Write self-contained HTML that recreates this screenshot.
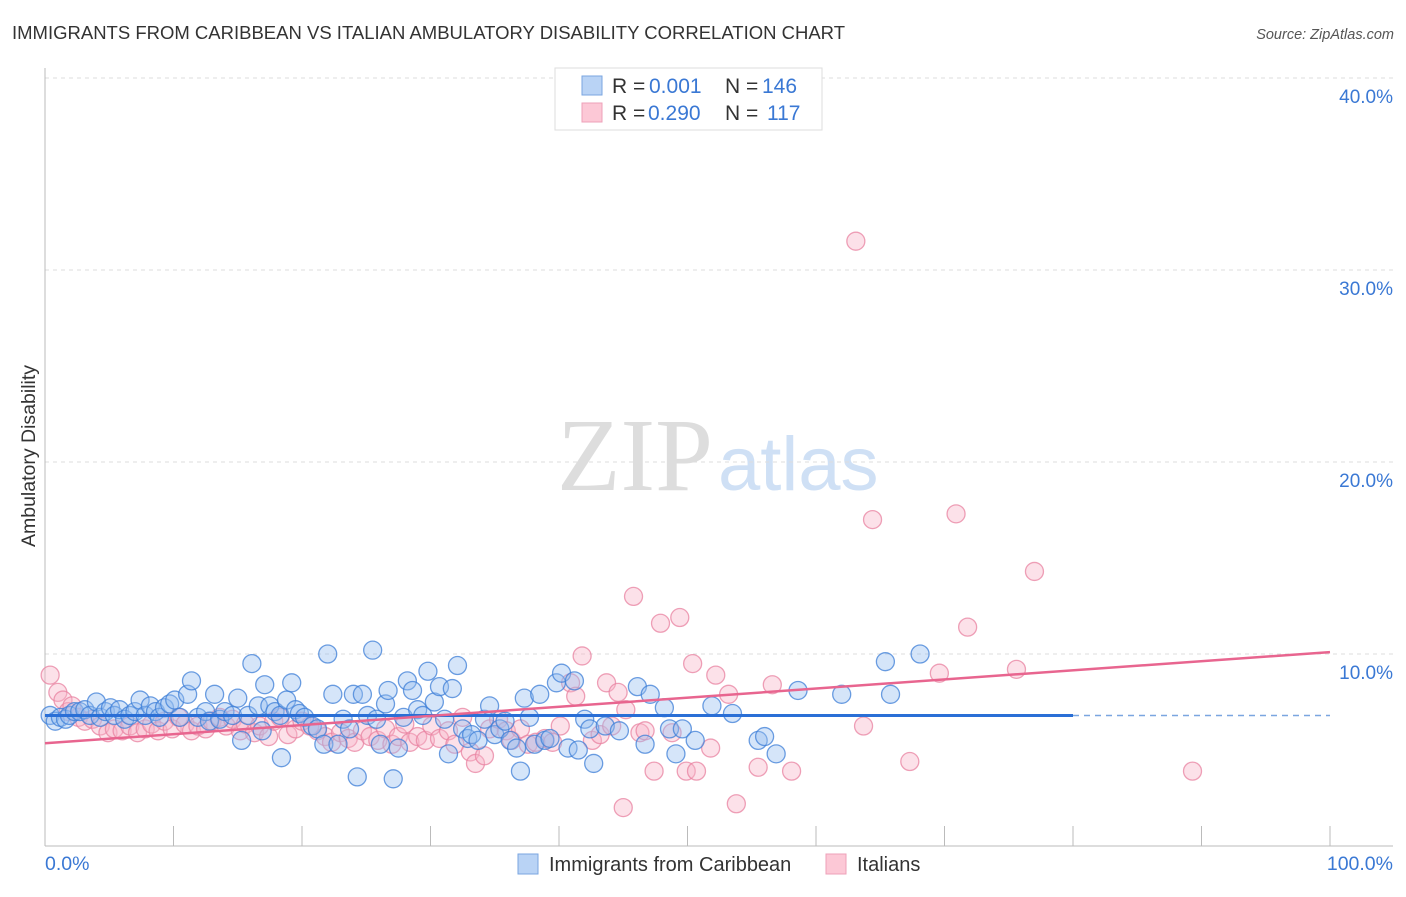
<!DOCTYPE html>
<html><head><meta charset="utf-8"><style>
body{margin:0;background:#fff;font-family:"Liberation Sans",sans-serif}
</style></head><body>
<svg id="chart" width="1406" height="892" xmlns="http://www.w3.org/2000/svg" style="font-family:'Liberation Sans',sans-serif">
<text x="12" y="39" font-size="18.5" fill="#333">IMMIGRANTS FROM CARIBBEAN VS ITALIAN AMBULATORY DISABILITY CORRELATION CHART</text>
<text x="1394" y="39" font-size="14.5" fill="#555" font-style="italic" text-anchor="end">Source: ZipAtlas.com</text>
<text transform="translate(35,456) rotate(-90)" font-size="19.5" fill="#333" text-anchor="middle">Ambulatory Disability</text>
<g>
<text x="713" y="490" font-size="104" font-family="'Liberation Serif',serif" fill="#ddd" text-anchor="end">ZIP</text>
<text x="718" y="490" font-size="76" fill="#cfe0f5">atlas</text>
</g>
<g id="grid"></g><g id="axes"></g><g id="pinkPts"></g><g id="bluePts"></g><g id="lines"></g>
<g>
<rect x="555" y="68" width="267" height="62" fill="#fff" stroke="#ddd"/>
<rect x="582" y="76" width="20" height="19" fill="#b9d3f5" stroke="#7aa6e0"/>
<rect x="582" y="103" width="20" height="19" fill="#fcc8d6" stroke="#eea0b8"/>
<text x="612" y="93" font-size="21" fill="#333">R =</text>
<text x="649" y="93" font-size="21" fill="#3a78d4">0.001</text>
<text x="725" y="93" font-size="21" fill="#333">N =</text>
<text x="762" y="93" font-size="21" fill="#3a78d4">146</text>
<text x="612" y="120" font-size="21" fill="#333">R =</text>
<text x="648" y="120" font-size="21" fill="#3a78d4">0.290</text>
<text x="725" y="120" font-size="21" fill="#333">N =</text>
<text x="767" y="120" font-size="21" fill="#3a78d4">117</text>
</g>
<g>
<rect x="518" y="854" width="20" height="20" fill="#b9d3f5" stroke="#7aa6e0"/>
<text x="549" y="871" font-size="20" fill="#333">Immigrants from Caribbean</text>
<rect x="826" y="854" width="20" height="20" fill="#fcc8d6" stroke="#eea0b8"/>
<text x="857" y="871" font-size="20" fill="#333">Italians</text>
</g>
</svg>
<script>
const yTicks=[10,20,30,40];
const yTickLabels=["10.0%","20.0%","30.0%","40.0%"];
const xTickLabels=["0.0%","100.0%"];
const blueX=[0.4,0.8,1.2,1.6,1.9,2.3,2.7,3.1,3.5,4.0,4.3,4.7,5.1,5.4,5.8,6.2,6.6,7.0,7.4,7.8,8.2,8.6,8.9,9.3,9.7,10.1,10.5,11.1,11.4,11.9,12.5,12.8,13.2,13.6,14.0,14.6,15.0,15.3,15.8,16.1,16.6,16.9,17.1,17.5,17.9,18.3,18.4,18.8,19.2,19.5,19.8,20.2,20.8,21.2,21.7,22.0,22.4,22.8,23.2,23.7,24.0,24.3,24.7,25.1,25.5,25.8,26.1,26.5,26.7,27.1,27.5,27.9,28.2,28.6,29.0,29.4,29.8,30.3,30.7,31.1,31.4,31.7,32.1,32.5,32.9,33.2,33.7,34.2,34.6,35.0,35.4,35.8,36.2,36.7,37.0,37.3,37.7,38.1,38.5,38.9,39.3,39.8,40.2,40.7,41.2,41.5,42.0,42.4,42.7,43.6,44.7,46.1,46.7,47.1,48.2,48.6,49.1,49.6,50.6,51.9,53.5,55.5,56.0,56.9,58.6,62.0,65.4,65.8,68.1];
const blueY=[6.8,6.5,6.7,6.6,6.8,7.0,7.0,7.1,6.8,7.5,6.7,7.0,7.2,6.8,7.1,6.6,6.8,7.0,7.6,6.8,7.3,7.0,6.7,7.2,7.4,7.6,6.7,7.9,8.6,6.7,7.0,6.5,7.9,6.6,7.0,6.8,7.7,5.5,6.8,9.5,7.3,6.0,8.4,7.3,7.0,6.8,4.6,7.6,8.5,7.1,6.9,6.7,6.25,6.1,5.3,10.0,7.9,5.3,6.6,6.1,7.9,3.6,7.9,6.8,10.2,6.6,5.3,7.4,8.1,3.5,5.1,6.7,8.6,8.1,7.1,6.8,9.1,7.5,8.3,6.6,4.8,8.2,9.4,6.1,5.6,5.8,5.5,6.6,7.3,5.8,6.1,6.5,5.5,5.1,3.9,7.7,6.7,5.3,7.9,5.5,5.6,8.5,9.0,5.1,8.6,5.0,6.6,6.1,4.3,6.25,6.0,8.3,5.3,7.9,7.2,6.1,4.8,6.1,5.5,7.3,6.9,5.5,5.7,4.8,8.1,7.9,9.6,7.9,10.0];
const pinkX=[0.4,1.0,1.4,1.8,2.1,2.6,3.1,3.7,4.3,4.9,5.4,6.0,6.6,7.2,7.8,8.3,8.8,9.3,9.9,10.4,10.9,11.4,11.9,12.5,13.0,13.6,14.1,14.6,15.2,15.6,16.3,16.7,17.4,17.8,18.3,18.9,19.5,20.0,20.6,21.2,21.8,22.3,23.0,23.6,24.1,24.7,25.3,25.9,26.5,27.0,27.5,28.0,28.4,29.0,29.6,30.1,30.7,31.4,31.9,32.5,33.1,33.5,34.2,34.6,35.3,35.9,36.3,37.0,37.6,38.2,38.9,39.5,40.1,40.9,41.3,41.8,42.6,43.2,43.7,44.1,44.6,45.2,45.8,46.3,46.7,47.4,47.9,48.8,49.4,49.9,50.4,50.7,51.8,52.2,53.2,53.8,55.5,56.6,58.1,63.1,63.7,64.4,67.3,69.6,70.9,71.8,75.6,77.0,89.3,45.0];
const pinkY=[8.9,8.0,7.6,7.0,7.3,6.7,6.5,6.6,6.25,5.9,6.1,6.0,6.25,5.9,6.1,6.35,6.0,6.5,6.1,6.7,6.35,6.0,6.25,6.1,6.5,6.7,6.25,6.6,6.0,6.35,5.9,6.25,5.7,6.5,6.7,5.8,6.1,6.5,6.25,6.0,5.7,5.4,5.9,5.6,5.4,6.0,5.7,5.5,6.1,5.3,5.7,6.35,5.4,5.7,5.5,6.25,5.6,6.0,5.3,6.7,4.9,4.3,4.7,6.1,6.6,6.0,5.5,6.1,5.3,5.4,5.6,5.4,6.25,8.5,7.8,9.9,5.5,5.8,8.5,6.25,8.0,7.1,13.0,5.9,6.0,3.9,11.6,5.9,11.9,3.9,9.5,3.9,5.1,8.9,7.9,2.2,4.1,8.4,3.9,31.5,6.25,17.0,4.4,9.0,17.3,11.4,9.2,14.3,3.9,2.0];
const blueTrend=[6.8,6.8];
const pinkTrend=[5.35,10.1];

const NS="http://www.w3.org/2000/svg";
const sx=v=>45+v*12.85;
const sy=v=>846-v*19.2;
function mk(tag,attrs,parent){const e=document.createElementNS(NS,tag);for(const k in attrs)e.setAttribute(k,attrs[k]);document.getElementById(parent).appendChild(e);return e;}
yTicks.forEach((t,i)=>{
  const g=mk('line',{x1:45,x2:1393,y1:sy(t),y2:sy(t),stroke:'#ddd','stroke-dasharray':'4,4'},'grid');
  
  
  const l=mk('text',{x:1393,y:sy(t)+25,'font-size':19,fill:'#3a78d4','text-anchor':'end'},'grid');
  l.textContent=yTickLabels[i];
  
  
});
const ax=mk('line',{x1:45,x2:45,y1:68,y2:846,stroke:'#bbb'},'axes');


const bx=mk('line',{x1:45,x2:1393,y1:846,y2:846,stroke:'#bbb'},'axes');


for(let i=0;i<=10;i++){
  const t=mk('line',{x1:sx(i*10),x2:sx(i*10),y1:826,y2:846,stroke:'#bbb'},'axes');
  
  
}
[[0,'start',xTickLabels[0]],[100,'end',xTickLabels[1]]].forEach(([v,a,s])=>{
  const t=mk('text',{x:v===0?sx(0):1393,y:870,'font-size':19.5,fill:'#3a78d4','text-anchor':a},'axes');
  t.textContent=s;
  
  
});
pinkX.forEach((x,i)=>{
  const c=mk('circle',{cx:sx(x),cy:sy(pinkY[i]),r:9,fill:'rgba(248,180,200,0.4)',stroke:'rgba(232,130,160,0.75)','stroke-width':1.3},'pinkPts');
  
  
});
blueX.forEach((x,i)=>{
  const c=mk('circle',{cx:sx(x),cy:sy(blueY[i]),r:9,fill:'rgba(150,190,240,0.4)',stroke:'rgba(60,125,215,0.75)','stroke-width':1.3},'bluePts');
  
  
});
const b1=mk('line',{x1:sx(0),x2:sx(80),y1:sy(blueTrend[0]),y2:sy(blueTrend[0]+(blueTrend[1]-blueTrend[0])*0.8),stroke:'#2a6fd6','stroke-width':3},'lines');


const b2=mk('line',{x1:sx(80),x2:sx(100),y1:sy(blueTrend[0]+(blueTrend[1]-blueTrend[0])*0.8),y2:sy(blueTrend[1]),stroke:'#7aa6e0','stroke-width':1.5,'stroke-dasharray':'6,5'},'lines');


const p1=mk('line',{x1:sx(0),x2:sx(100),y1:sy(pinkTrend[0]),y2:sy(pinkTrend[1]),stroke:'#e8658f','stroke-width':2.5},'lines');


</script>
</body></html>
